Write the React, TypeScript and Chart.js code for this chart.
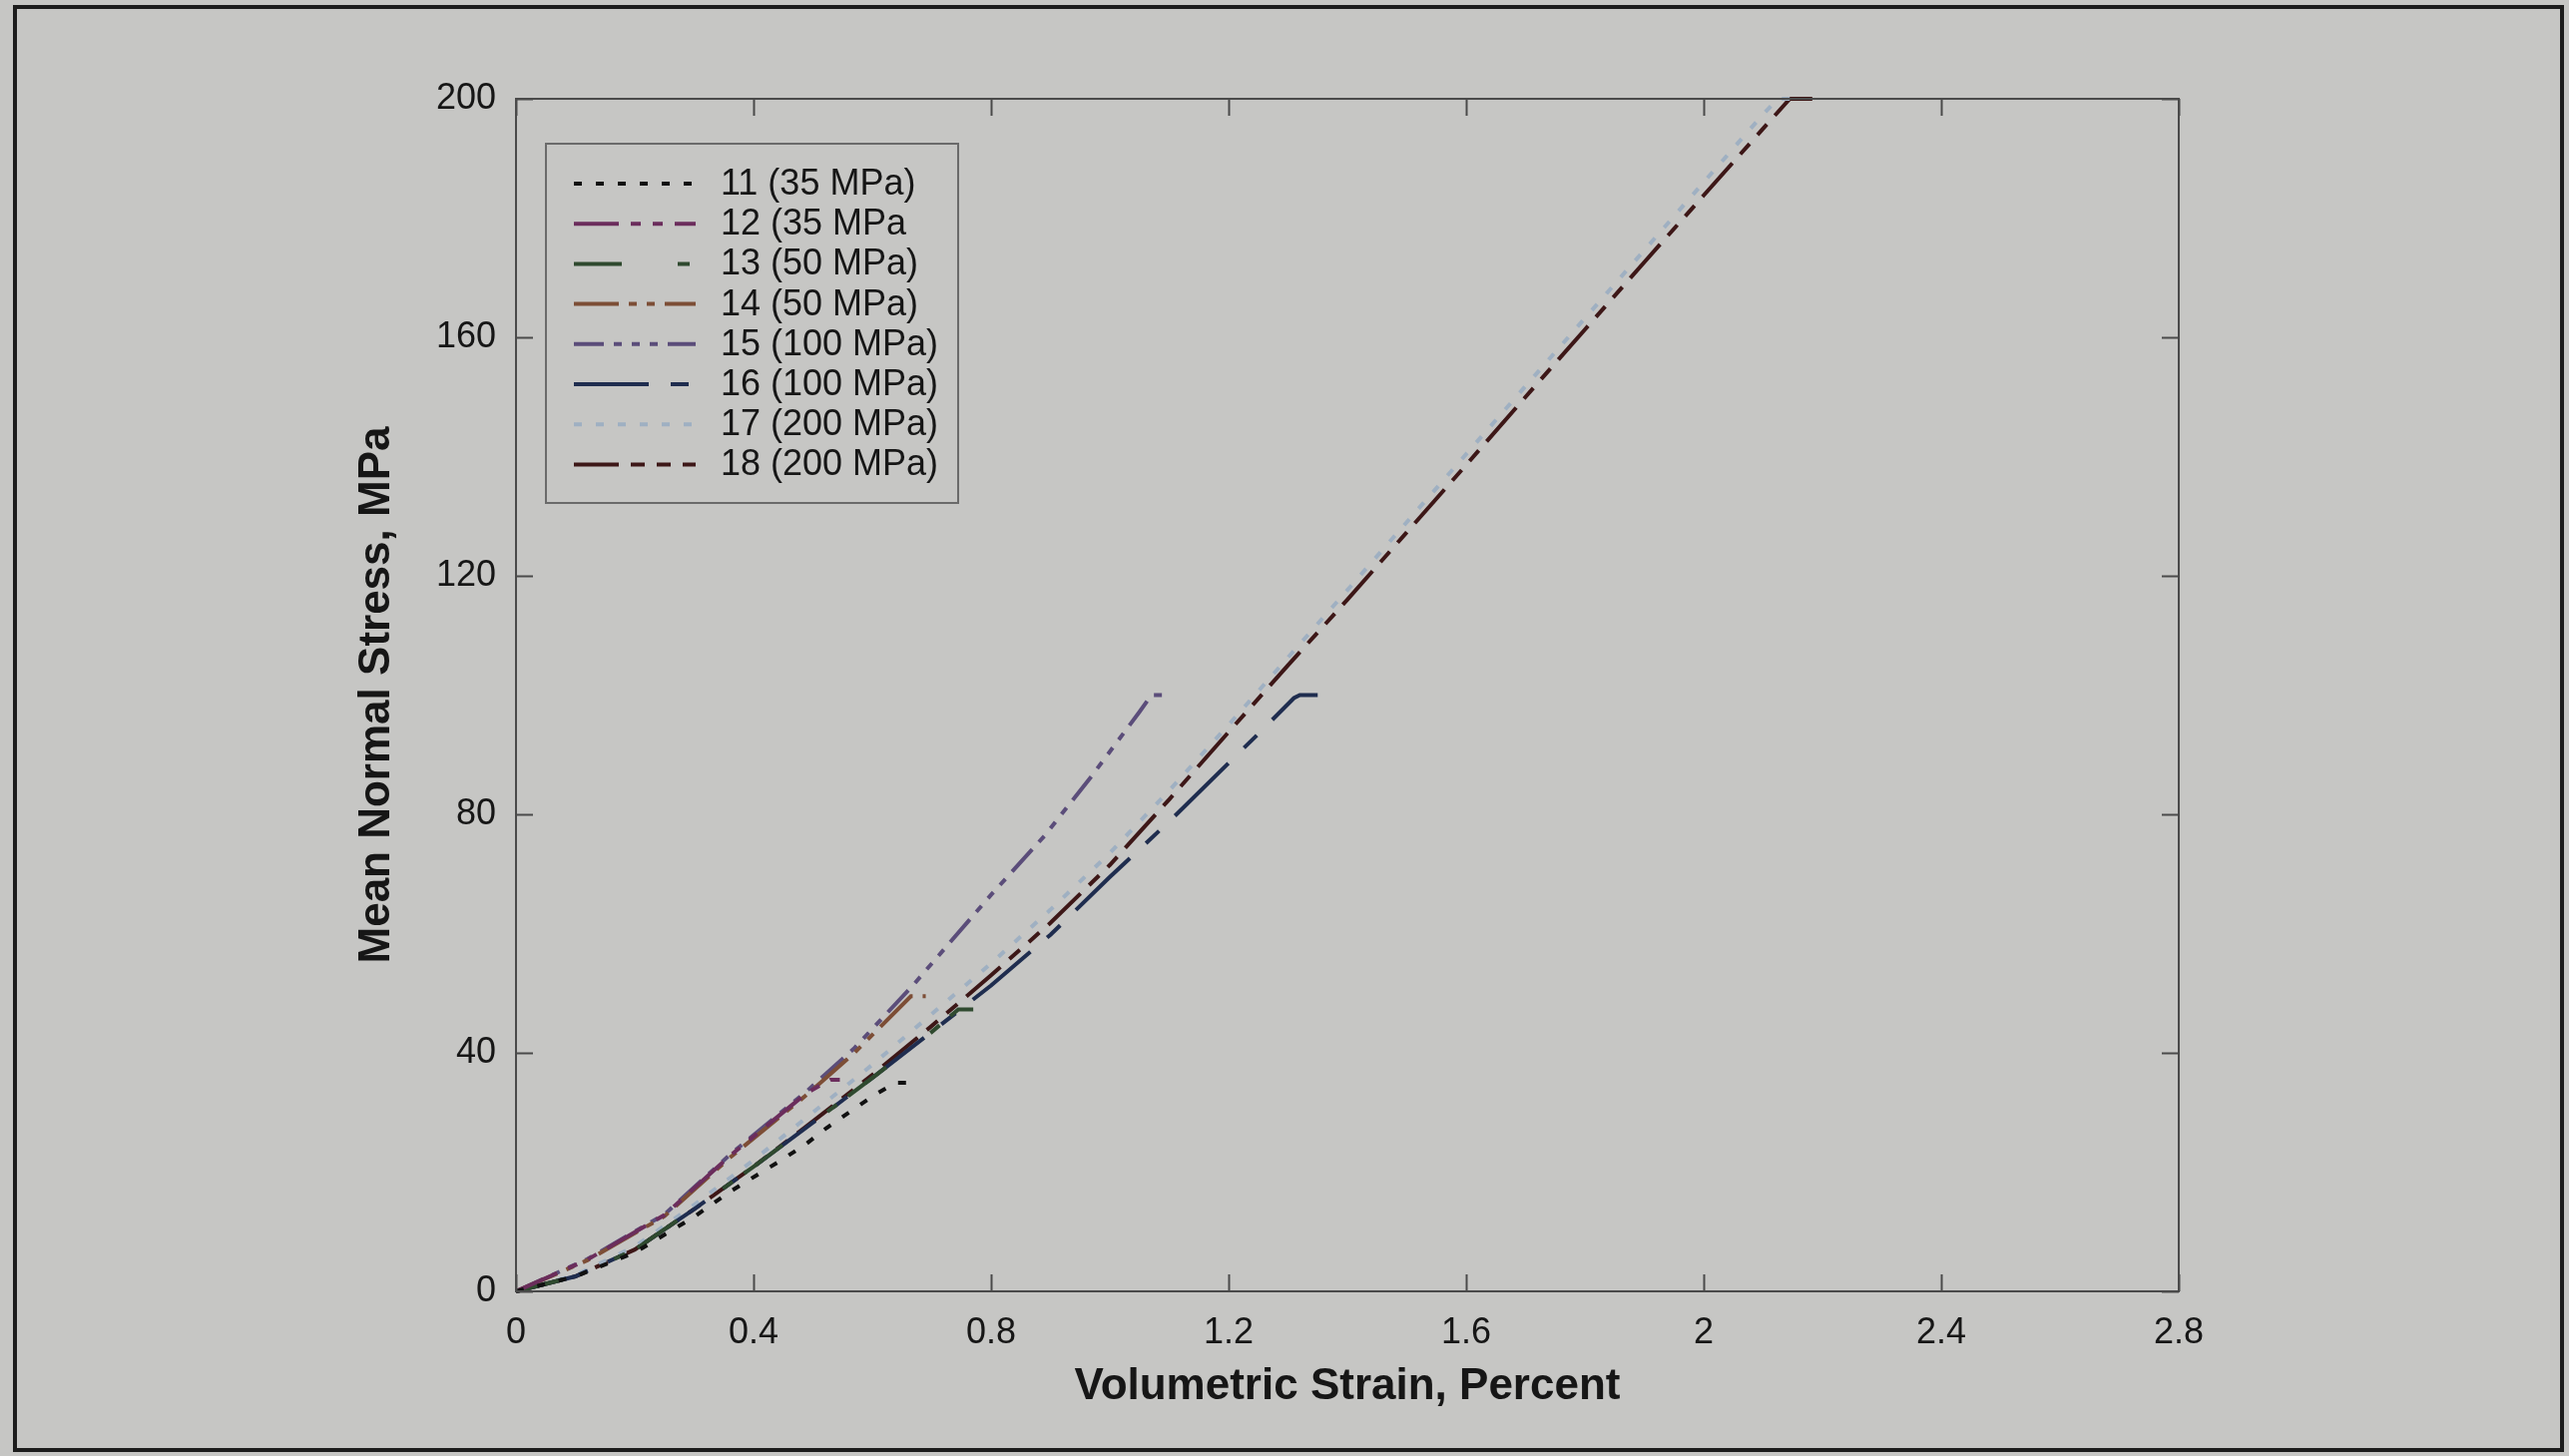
import React, { useEffect, useRef } from "react";
import { Chart, registerables } from "chart.js";

Chart.register(...registerables);

// ---------- data ----------
const seriesLabels = [
  "11 (35 MPa)",
  "12 (35 MPa",
  "13 (50 MPa)",
  "14 (50 MPa)",
  "15 (100 MPa)",
  "16 (100 MPa)",
  "17 (200 MPa)",
  "18 (200 MPa)",
];

const strain11 = [0, 0.1, 0.2, 0.3, 0.36, 0.445, 0.487, 0.523, 0.565, 0.605, 0.64, 0.665];
const stress11 = [0, 2.5, 6.5, 12.5, 16.7, 21.9, 24.6, 27.4, 30.3, 33, 35, 35];

const strain12 = [0, 0.12, 0.25, 0.36, 0.49, 0.53, 0.55];
const stress12 = [0, 5.3, 12.8, 22.7, 33.3, 35.5, 35.5];

const strain13 = [0, 0.1, 0.2, 0.3, 0.4, 0.5, 0.6, 0.7, 0.745, 0.77];
const stress13 = [0, 2.5, 7, 13.8, 20.9, 28.3, 35.8, 43.5, 47.3, 47.3];

const strain14 = [0, 0.12, 0.25, 0.36, 0.49, 0.57, 0.665, 0.69];
const stress14 = [0, 5.2, 12.6, 22.4, 33, 40, 49.5, 49.5];

const strain15 = [0, 0.12, 0.25, 0.36, 0.49, 0.57, 0.67, 0.8, 0.89, 0.97, 1.05, 1.07, 1.1];
const stress15 = [0, 5.4, 12.9, 22.9, 33.6, 40.8, 51.5, 66.5, 76.4, 86.5, 97.2, 100, 100];

const strain16 = [0, 0.1, 0.2, 0.3, 0.4, 0.5, 0.6, 0.7, 0.8, 0.9, 1.0, 1.1, 1.2, 1.25, 1.31, 1.32, 1.35];
const stress16 = [0, 2.5, 7, 13.8, 20.9, 28.3, 35.8, 43.5, 51.3, 59.8, 69.5, 78.8, 88.6, 93.5, 99.5, 100, 100];

const strain17 = [0, 0.1, 0.2, 0.3, 0.4, 0.5, 0.6, 0.7, 0.8, 0.9, 1.0, 1.1, 1.2, 1.3, 1.4, 1.5, 1.6, 1.7, 1.8, 1.9, 2.0, 2.1, 2.125, 2.16];
const stress17 = [0, 2.7, 7.5, 14.5, 22, 30, 38, 46.5, 55, 64, 73.5, 84, 95, 106.3, 117.6, 129, 140.4, 151.8, 163.2, 174.6, 186, 197.4, 200, 200];

const strain18 = [0, 0.1, 0.2, 0.3, 0.4, 0.5, 0.6, 0.7, 0.8, 0.9, 1.0, 1.1, 1.2, 1.3, 1.4, 1.5, 1.6, 1.7, 1.8, 1.9, 2.0, 2.1, 2.145, 2.2];
const stress18 = [0, 2.5, 7, 13.8, 20.9, 28.5, 36.3, 44.5, 53, 61.8, 71.5, 82.5, 93.8, 105, 116, 127.3, 138.6, 150, 161.3, 172.6, 183.8, 195, 200, 200];

const xTickValues = [0, 0.4, 0.8, 1.2, 1.6, 2, 2.4, 2.8];
const yTickValues = [0, 40, 80, 120, 160, 200];

const xTitle = "Volumetric Strain, Percent";
const yTitle = "Mean Normal Stress, MPa";

// ---------- styles ----------
const W = 2574;
const H = 1459;
const BG = "#c6c6c4";
const FONT = "'Liberation Sans', Arial, Helvetica, sans-serif";

const seriesColors = ["#111111", "#6b2d5c", "#2f4a2f", "#7d4e36", "#5b4d7a", "#1f2d4f", "#9fb0c2", "#3d1717"];
const seriesDashes = [
  [8, 14],
  [45, 12, 10, 12, 10, 12],
  [48, 56, 12, 14],
  [45, 10, 8, 10, 8, 10],
  [30, 10, 8, 10, 8, 10, 8, 10],
  [75, 22, 18, 22],
  [8, 14],
  [45, 12, 14, 12, 14, 12],
];

const pairs = (xs: number[], ys: number[]) => xs.map((x, i) => ({ x, y: ys[i] }));

const seriesData = [
  pairs(strain11, stress11),
  pairs(strain12, stress12),
  pairs(strain13, stress13),
  pairs(strain14, stress14),
  pairs(strain15, stress15),
  pairs(strain16, stress16),
  pairs(strain17, stress17),
  pairs(strain18, stress18),
];

const frameAndLegend = {
  id: "frameAndLegend",
  beforeDraw(chart: any) {
    const ctx = chart.ctx;
    ctx.save();
    ctx.fillStyle = BG;
    ctx.fillRect(0, 0, W, H);
    ctx.strokeStyle = "#1c1c1c";
    ctx.lineWidth = 4;
    ctx.strokeRect(15, 7, 2552, 1446);
    ctx.restore();
  },
  afterDatasetsDraw(chart: any) {
    const ctx = chart.ctx;
    const { left, right, top, bottom } = chart.chartArea;
    const xs = chart.scales.x;
    const ys = chart.scales.y;
    ctx.save();
    ctx.strokeStyle = "#4a4a4a";
    ctx.lineWidth = 2;
    ctx.setLineDash([]);
    ctx.strokeRect(left, top, right - left, bottom - top);
    const tl = 17;
    ctx.beginPath();
    xTickValues.forEach((v) => {
      const px = Math.round(xs.getPixelForValue(v)) + 0.5;
      ctx.moveTo(px, bottom);
      ctx.lineTo(px, bottom - tl);
      ctx.moveTo(px, top);
      ctx.lineTo(px, top + tl);
    });
    yTickValues.forEach((v) => {
      const py = Math.round(ys.getPixelForValue(v)) + 0.5;
      ctx.moveTo(left, py);
      ctx.lineTo(left + tl, py);
      ctx.moveTo(right, py);
      ctx.lineTo(right - tl, py);
    });
    ctx.stroke();

    // legend box
    const bx = 547, by = 144, bw = 413, bh = 360;
    ctx.fillStyle = BG;
    ctx.fillRect(bx, by, bw, bh);
    ctx.strokeStyle = "#6a6a6a";
    ctx.lineWidth = 2;
    ctx.strokeRect(bx, by, bw, bh);
    ctx.font = `36px ${FONT}`;
    ctx.textBaseline = "middle";
    ctx.textAlign = "left";
    chart.data.datasets.forEach((ds: any, i: number) => {
      const y = 184 + i * 40.2;
      ctx.strokeStyle = ds.borderColor;
      ctx.lineWidth = ds.borderWidth;
      ctx.setLineDash(ds.borderDash || []);
      ctx.beginPath();
      ctx.moveTo(575, y);
      ctx.lineTo(697, y);
      ctx.stroke();
      ctx.setLineDash([]);
      ctx.fillStyle = "#161616";
      ctx.fillText(ds.label, 722, y + 1);
    });
    ctx.restore();
  },
};

export default function App() {
  const ref = useRef<HTMLCanvasElement | null>(null);

  useEffect(() => {
    if (!ref.current) return;
    const chart = new Chart(ref.current, {
      type: "line",
      data: {
        datasets: seriesData.map((d, i) => ({
          label: seriesLabels[i],
          data: d,
          borderColor: seriesColors[i],
          backgroundColor: seriesColors[i],
          borderDash: seriesDashes[i],
          borderWidth: 4,
          pointRadius: 0,
          fill: false,
          tension: 0,
          clip: false as any,
        })),
      },
      options: {
        responsive: false,
        animation: false,
        events: [],
        layout: { padding: { left: 0, top: 99, right: W - 2183, bottom: 0 } },
        plugins: {
          legend: { display: false },
          tooltip: { enabled: false },
        },
        scales: {
          x: {
            type: "linear",
            min: 0,
            max: 2.8,
            afterBuildTicks: (s: any) => {
              s.ticks = xTickValues.map((v) => ({ value: v }));
            },
            afterFit: (s: any) => {
              s.height = H - 1294;
            },
            grid: { display: false, drawTicks: false, tickLength: 0 },
            border: { display: false },
            ticks: {
              padding: 20,
              color: "#161616",
              font: { family: FONT, size: 36 },
              maxRotation: 0,
              autoSkip: false,
              callback: (v: any) => String(Math.round(Number(v) * 10) / 10),
            },
            title: {
              display: true,
              text: xTitle,
              color: "#161616",
              font: { family: FONT, size: 44, weight: "bold" },
              padding: { top: 0, bottom: 43 },
            },
          },
          y: {
            type: "linear",
            min: 0,
            max: 200,
            afterBuildTicks: (s: any) => {
              s.ticks = yTickValues.map((v) => ({ value: v }));
            },
            afterFit: (s: any) => {
              s.width = 517;
            },
            grid: { display: false, drawTicks: false, tickLength: 0 },
            border: { display: false },
            ticks: {
              padding: 20,
              color: "#161616",
              font: { family: FONT, size: 36 },
              autoSkip: false,
              callback: (v: any) => String(v),
            },
            title: {
              display: true,
              text: yTitle,
              color: "#161616",
              font: { family: FONT, size: 44, weight: "bold" },
              padding: { top: 351, bottom: 0 },
            },
          },
        },
      },
      plugins: [frameAndLegend],
    });
    return () => chart.destroy();
  }, []);

  return (
    <div style={{ position: "fixed", left: 0, top: 0, width: W, height: H, background: BG }}>
      <canvas ref={ref} width={W} height={H} style={{ display: "block", width: W, height: H }} />
    </div>
  );
}
